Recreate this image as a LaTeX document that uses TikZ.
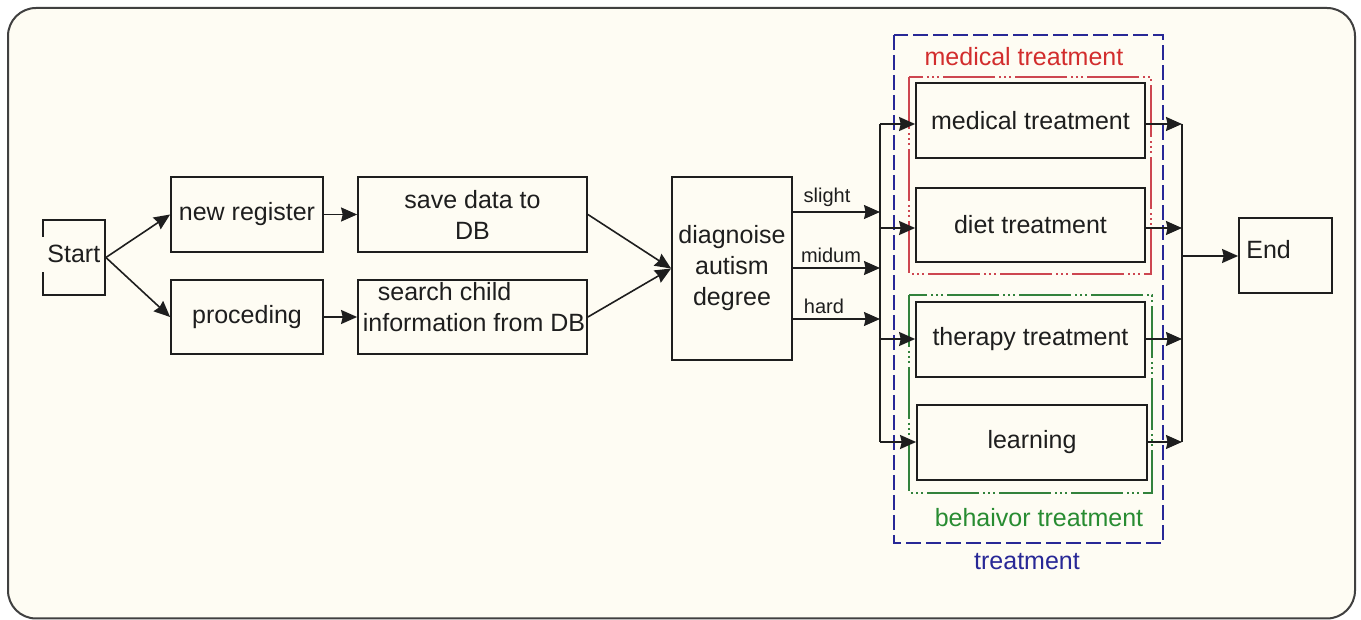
\documentclass[tikz,border=0pt]{standalone}
\usepackage{fontspec}
\setmainfont{Liberation Sans}
\usetikzlibrary{arrows.meta,calc}
\definecolor{bg}{RGB}{254,252,243}
\definecolor{redl}{RGB}{205,70,80}
\definecolor{redt}{RGB}{210,45,45}
\definecolor{greenl}{RGB}{50,130,60}
\definecolor{greent}{RGB}{40,140,50}
\definecolor{bluel}{RGB}{40,40,150}
\definecolor{ink}{RGB}{30,30,30}
\begin{document}
\begin{tikzpicture}[x=0.5pt,y=-0.5pt,
  txt/.style={font=\fontsize{12.5}{15.5}\selectfont,text=ink,inner sep=0pt,align=center},
  box/.style={draw=ink,line width=0.9pt,fill=bg,inner sep=0pt,txt},
  arr/.style={draw=ink,line width=0.8pt,-{Stealth[length=8pt,width=7pt,inset=0.8pt]}},
  wire/.style={draw=ink,line width=0.8pt},
  lbl/.style={font=\fontsize{10}{12}\selectfont,text=ink,inner sep=0pt},
  grp/.style={line width=0.8pt,dash pattern=on 26pt off 2pt on 1pt off 1.5pt on 1pt off 1.5pt on 1pt off 2pt},
]
% background and frame
\fill[white] (0,0) rectangle (1361,619);
\draw[fill=bg,draw=ink!85,line width=1pt,rounded corners=14pt] (8,8) rectangle (1355,618.5);
\useasboundingbox (0,0) rectangle (1361,619);

% group frames
\draw[bluel,line width=0.9pt,dash pattern=on 7.5pt off 2.5pt] (894,35) rectangle (1163,543);
\draw[grp,redl] (909,77) rectangle (1151,274);
\draw[grp,greenl] (909,295) rectangle (1152,493);
\node[txt,text=redt] (medlbl) at (1024,57) {medical treatment};
\node[txt,text=greent] (behlbl) at (1039,518) {behaivor treatment};
\node[txt,text=bluel] (trlbl) at (1027,562) {treatment};

% boxes
\node[box,minimum width=31pt,minimum height=37.5pt] (start) at (74,257.5) {};
\fill[bg] (41,237) rectangle (46,272);
\node[txt,anchor=west] (starttxt) at (47,254) {Start};
\node[box,minimum width=76pt,minimum height=37.5pt] (newreg) at (247,214.5) {new register};
\node[box,minimum width=76pt,minimum height=37pt] (proc) at (247,317) {proceding};
\node[box,minimum width=114.5pt,minimum height=37.5pt] (save) at (472.5,214.5) {save data to\\DB};
\node[box,minimum width=114.5pt,minimum height=37pt] (search) at (472.5,317) {};
\node[txt,align=left] (searchtxt) at (474,307.5) {\hspace{7.5pt}search child\\information from DB};
\node[box,minimum width=60pt,minimum height=91.5pt] (diag) at (732,268.5) {diagnoise\\autism\\degree};
\node[box,minimum width=114.5pt,minimum height=37.5pt] (med) at (1030.5,120.5) {medical treatment};
\node[box,minimum width=114.5pt,minimum height=37pt] (diet) at (1030.5,225) {diet treatment};
\node[box,minimum width=114.5pt,minimum height=37.5pt] (ther) at (1030.5,339.5) {therapy treatment};
\node[box,minimum width=115pt,minimum height=37.5pt] (learn) at (1032,442.5) {learning};
\node[box,minimum width=46.5pt,minimum height=37.5pt] (end) at (1285.5,255.5) {};
\node[txt,anchor=west] (endtxt) at (1246,250) {End};

% left part connectors
\draw[arr] (start.east) -- (newreg.west);
\draw[arr] (start.east) -- (proc.west);
\draw[arr] (newreg.east) -- (save.west);
\draw[arr] (proc.east) -- (search.west);
\draw[arr] (save.east) -- (diag.west);
\draw[arr] (search.east) -- (diag.west);

% diagnose outputs
\coordinate (s1) at (880,212);
\coordinate (s2) at (880,268);
\coordinate (s3) at (880,319);
\draw[arr] (diag.east |- s1) -- (s1);
\draw[arr] (diag.east |- s2) -- (s2);
\draw[arr] (diag.east |- s3) -- (s3);
\node[lbl] (lslight) at (827,197) {slight};
\node[lbl] (lmidum) at (831,255) {midum};
\node[lbl] (lhard) at (824,306) {hard};

% left bus
\coordinate (b1) at (880,124);
\coordinate (b2) at (880,228);
\coordinate (b3) at (880,339);
\coordinate (b4) at (880,442);
\draw[wire] (b1) -- (b4);
\draw[arr] (b1) -- (med.west |- b1);
\draw[arr] (b2) -- (diet.west |- b2);
\draw[arr] (b3) -- (ther.west |- b3);
\draw[arr] (b4) -- (learn.west |- b4);

% right bus
\coordinate (r1) at (1182,124);
\coordinate (r2) at (1182,228);
\coordinate (r3) at (1182,339);
\coordinate (r4) at (1182,442);
\coordinate (rm) at (1182,256);
\draw[wire] (r1) -- (r4);
\draw[arr] (med.east |- r1) -- (r1);
\draw[arr] (diet.east |- r2) -- (r2);
\draw[arr] (ther.east |- r3) -- (r3);
\draw[arr] (learn.east |- r4) -- (r4);
\draw[arr] (rm) -- (end.west |- rm);
\end{tikzpicture}
\end{document}
